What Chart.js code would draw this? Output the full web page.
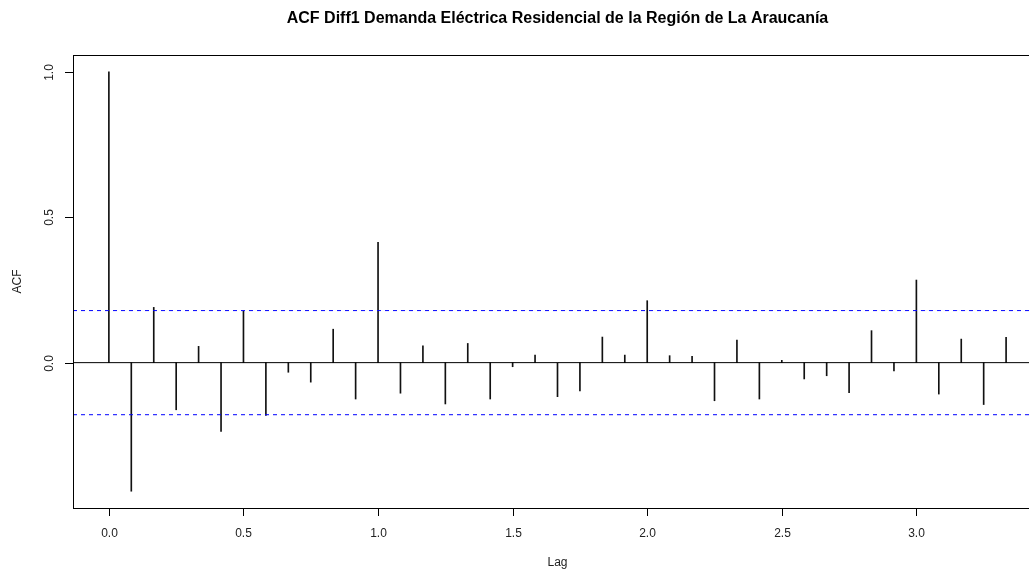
<!DOCTYPE html>
<html>
<head>
<meta charset="utf-8">
<script src="https://cdn.jsdelivr.net/npm/chart.js@4/dist/chart.umd.min.js"></script>
<style>
html,body{margin:0;padding:0;background:#fff;overflow:hidden;}
#wrap{width:1043px;height:571px;}
</style>
</head>
<body>
<div id="wrap"><canvas id="c" width="1043" height="571"></canvas></div>
<script>
const titleText = "ACF Diff1 Demanda Eléctrica Residencial de la Región de La Araucanía";
const xTitle = "Lag";
const yTitle = "ACF";
const lags = [0, 0.0833, 0.1667, 0.25, 0.3333, 0.4167, 0.5, 0.5833, 0.6667, 0.75, 0.8333, 0.9167,
  1.0, 1.0833, 1.1667, 1.25, 1.3333, 1.4167, 1.5, 1.5833, 1.6667, 1.75, 1.8333, 1.9167,
  2.0, 2.0833, 2.1667, 2.25, 2.3333, 2.4167, 2.5, 2.5833, 2.6667, 2.75, 2.8333, 2.9167,
  3.0, 3.0833, 3.1667, 3.25, 3.3333];
const acf = [1.000, -0.442, 0.190, -0.162, 0.056, -0.236, 0.177, -0.181, -0.033, -0.067, 0.115, -0.125,
  0.414, -0.105, 0.058, -0.142, 0.066, -0.125, -0.014, 0.026, -0.117, -0.097, 0.088, 0.026,
  0.213, 0.024, 0.022, -0.131, 0.078, -0.125, 0.008, -0.056, -0.045, -0.103, 0.110, -0.028,
  0.284, -0.108, 0.081, -0.144, 0.087];
const ciBound = 0.179;
const xTicks = [0, 0.5, 1.0, 1.5, 2.0, 2.5, 3.0];
const xTickLabels = ["0.0", "0.5", "1.0", "1.5", "2.0", "2.5", "3.0"];
const yTicks = [0, 0.5, 1.0];
const yTickLabels = ["0.0", "0.5", "1.0"];
const xRange = [-0.1333, 3.4667];
const yRange = [-0.4997, 1.0577];

const FONT = "'Liberation Sans', Arial, sans-serif";

const decor = {
  id: 'decor',
  afterDraw(chart) {
    const ctx = chart.ctx, a = chart.chartArea;
    const xs = chart.scales.x, ys = chart.scales.y;
    ctx.save();
    ctx.strokeStyle = '#000';
    ctx.lineWidth = 1;
    ctx.strokeRect(Math.round(a.left) + 0.5, Math.round(a.top) + 0.5,
      Math.round(a.right - a.left), Math.round(a.bottom - a.top));
    ctx.fillStyle = '#222';
    ctx.font = "12px " + FONT;
    // x ticks
    ctx.textAlign = 'center'; ctx.textBaseline = 'middle';
    xTicks.forEach((v, i) => {
      const px = Math.round(xs.getPixelForValue(v)) + 0.5;
      ctx.beginPath(); ctx.moveTo(px, a.bottom); ctx.lineTo(px, a.bottom + 8); ctx.stroke();
      ctx.fillText(xTickLabels[i], px, a.bottom + 26);
    });
    // y ticks
    yTicks.forEach((v, i) => {
      const py = Math.round(ys.getPixelForValue(v)) + 0.5;
      ctx.beginPath(); ctx.moveTo(a.left - 8, py); ctx.lineTo(a.left, py); ctx.stroke();
      ctx.save();
      ctx.translate(a.left - 23, py);
      ctx.rotate(-Math.PI / 2);
      ctx.fillText(yTickLabels[i], 0, 0);
      ctx.restore();
    });
    // axis titles
    const cx = (a.left + a.right) / 2, cy = (a.top + a.bottom) / 2;
    ctx.fillText(xTitle, cx, a.bottom + 55);
    ctx.save();
    ctx.translate(18, cy);
    ctx.rotate(-Math.PI / 2);
    ctx.fillText(yTitle, 0, 0);
    ctx.restore();
    // title
    ctx.fillStyle = '#000';
    ctx.font = "bold 16px " + FONT;
    ctx.fillText(titleText, cx, 19);
    ctx.restore();
  }
};

new Chart(document.getElementById('c'), {
  type: 'bar',
  data: {
    datasets: [
      {
        type: 'bar',
        data: lags.map((l, i) => ({x: l, y: acf[i]})),
        backgroundColor: '#111',
        borderWidth: 0,
        barThickness: 1,
        grouped: false,
        order: 2
      },
      {
        type: 'line',
        data: [{x: xRange[0], y: 0}, {x: xRange[1], y: 0}],
        borderColor: '#000', borderWidth: 1, pointRadius: 0, order: 1
      },
      {
        type: 'line',
        data: [{x: xRange[0], y: ciBound}, {x: xRange[1], y: ciBound}],
        borderColor: '#0000ff', borderWidth: 1, borderDash: [4, 4], pointRadius: 0, order: 0
      },
      {
        type: 'line',
        data: [{x: xRange[0], y: -ciBound}, {x: xRange[1], y: -ciBound}],
        borderColor: '#0000ff', borderWidth: 1, borderDash: [4, 4], pointRadius: 0, order: 0
      }
    ]
  },
  options: {
    responsive: false,
    animation: false,
    layout: {padding: {left: 73, right: 1, top: 55, bottom: 63}},
    plugins: {legend: {display: false}, tooltip: {enabled: false}, title: {display: false}},
    scales: {
      x: {type: 'linear', min: xRange[0], max: xRange[1], display: false, offset: false},
      y: {type: 'linear', min: yRange[0], max: yRange[1], display: false}
    }
  },
  plugins: [decor]
});
</script>
</body>
</html>
